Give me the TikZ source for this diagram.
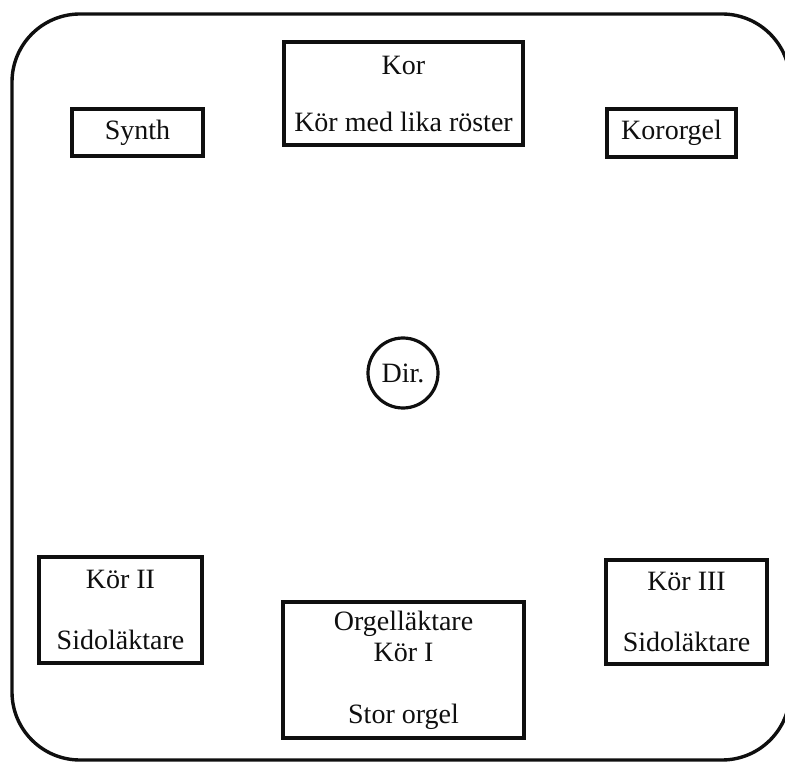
\documentclass[tikz,border=0pt]{standalone}
\usepackage{fontspec}
\setmainfont{Liberation Serif}
\usepackage{xcolor}
\definecolor{inkblack}{RGB}{15,15,15}

\tikzset{
    place/.style={draw=inkblack, line width=1.6pt, rectangle, inner sep=0pt, align=center,
        font=\fontsize{14}{15.5}\selectfont, text=inkblack},
}

\begin{document}
\begin{tikzpicture}[x=0.5pt, y=-0.5pt]
    \useasboundingbox (0,0) rectangle (785,763);
    % Church room
    \draw[inkblack, line width=1.7pt, rounded corners=34pt] (12,14) rectangle (790,760);

    % Front
    \node[place, minimum width=65.5pt, minimum height=23.5pt] (synth) at (137.5,132.5) {Synth};
    \node[place, minimum width=119.5pt, minimum height=51.5pt] (kor) at (403.5,93.5) {Kor\\[13pt]Kör med lika röster};
    \node[place, minimum width=64.5pt, minimum height=24pt] (kororgel) at (671.5,133) {Kororgel};

    % Conductor
    \node[place, circle, minimum size=35pt] (dir) at (403,373) {Dir.};

    % Galleries
    \node[place, minimum width=81.5pt, minimum height=53pt] (kortva) at (120.5,610) {Kör II\\[15pt]Sidoläktare};
    \node[place, minimum width=120.5pt, minimum height=68pt] (orgel) at (403.5,670) {Orgelläktare\\Kör I\\[15.5pt]Stor orgel};
    \node[place, minimum width=80.5pt, minimum height=52pt] (kortre) at (686.5,612) {Kör III\\[15pt]Sidoläktare};
\end{tikzpicture}
\end{document}
